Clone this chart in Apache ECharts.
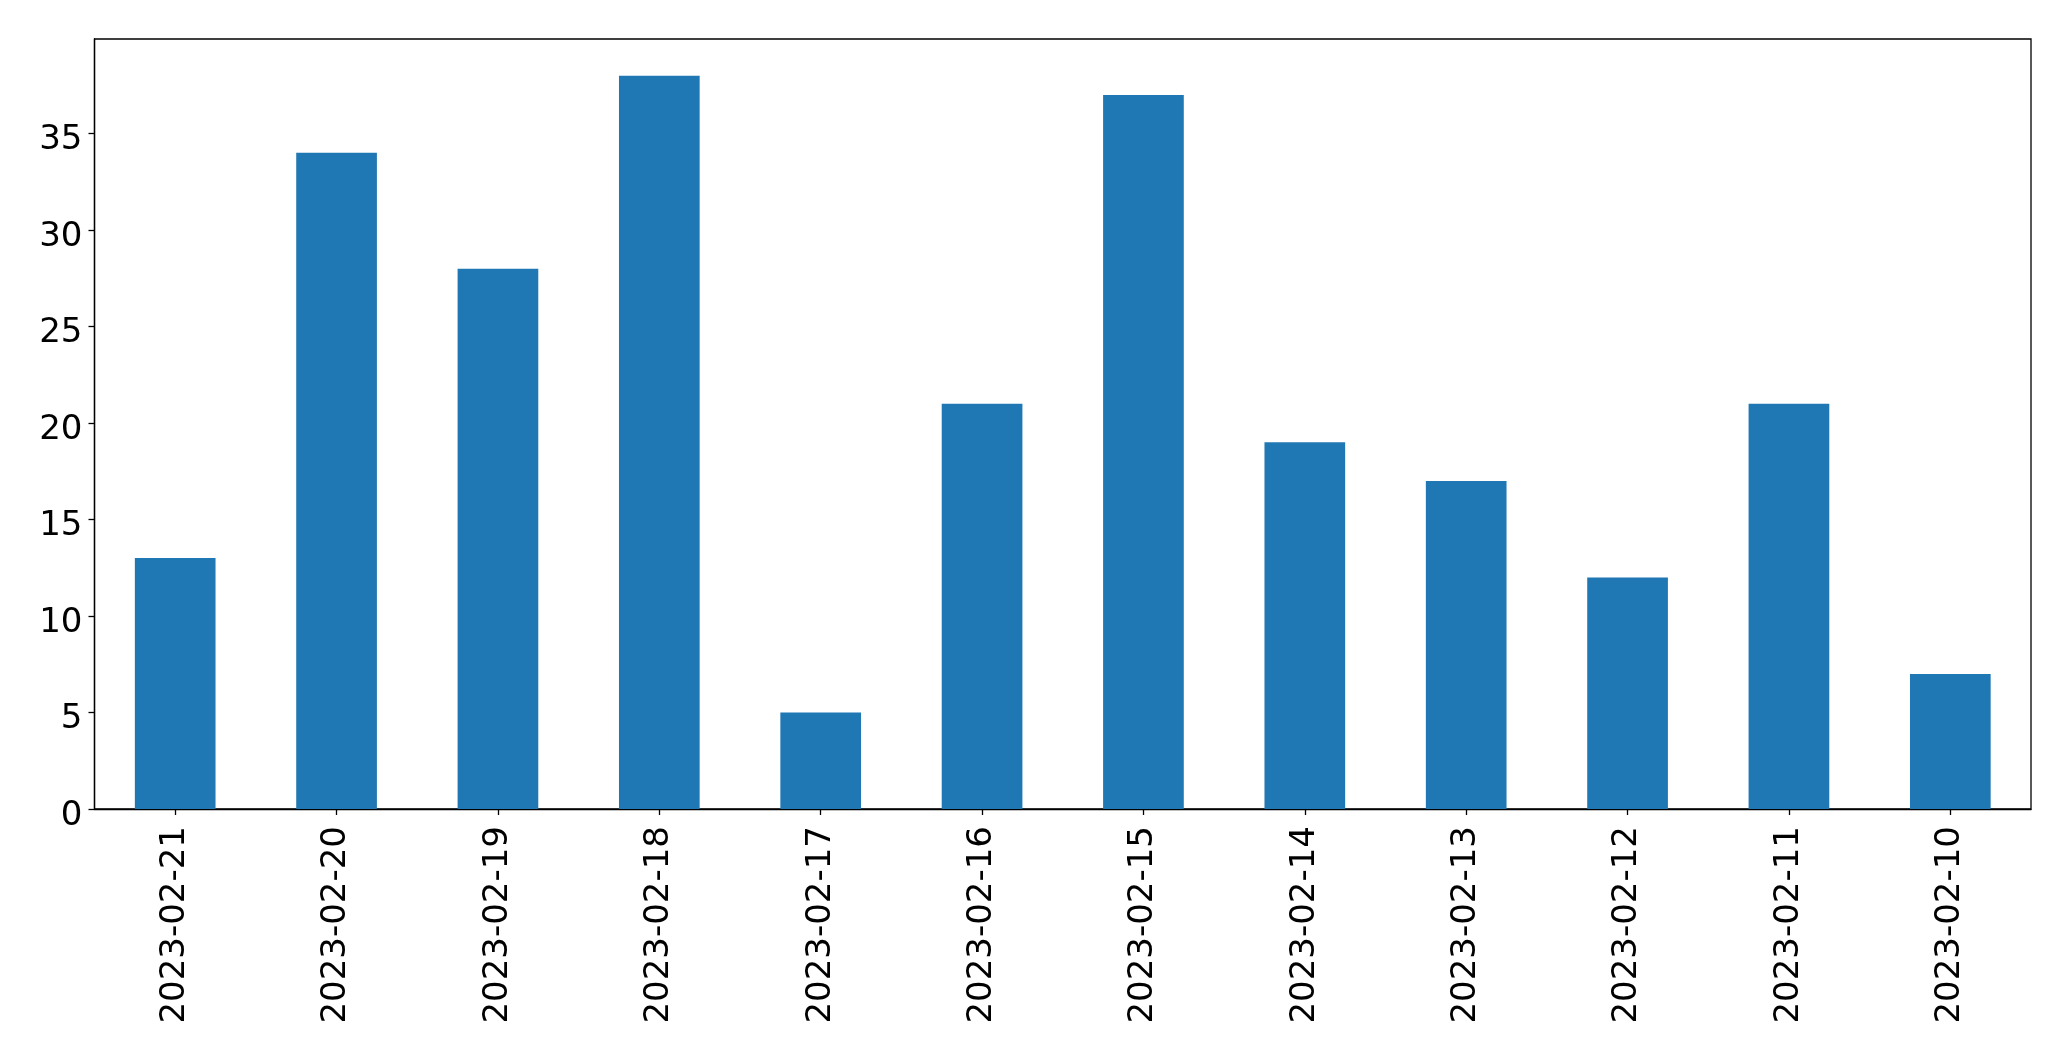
<!DOCTYPE html>
<html>
<head>
<meta charset="utf-8">
<script src="https://cdn.jsdelivr.net/npm/echarts@6/dist/echarts.min.js"></script>
<style>
html,body{margin:0;padding:0;background:#fff;}
#chart{width:2071px;height:1061px;}
</style>
</head>
<body>
<div id="chart"></div>
<script>
const categories = ["2023-02-21","2023-02-20","2023-02-19","2023-02-18","2023-02-17","2023-02-16","2023-02-15","2023-02-14","2023-02-13","2023-02-12","2023-02-11","2023-02-10"];
const values = [13, 34, 28, 38, 5, 21, 37, 19, 17, 12, 21, 7];
const yTicks = [0, 5, 10, 15, 20, 25, 30, 35];
const yMax = 39.9;

const chart = echarts.init(document.getElementById('chart'), null, {renderer: 'canvas'});
const font = 'DejaVu Sans';
chart.setOption({
  animation: false,
  backgroundColor: '#ffffff',
  grid: {
    left: 94.5, right: 40, top: 39, bottom: 252,
    show: true, borderColor: '#000', borderWidth: 1.3, backgroundColor: 'transparent'
  },
  xAxis: {
    type: 'category',
    data: categories,
    boundaryGap: true,
    axisLine: {show: true, lineStyle: {color: '#000', width: 1.3}},
    axisTick: {show: true, alignWithLabel: true, length: 6, lineStyle: {color: '#000', width: 1.3}},
    axisLabel: {rotate: 90, margin: 17, fontSize: 34, fontFamily: font, color: '#000'},
    splitLine: {show: false}
  },
  yAxis: {
    type: 'value',
    min: 0, max: yMax,
    axisLine: {show: true, lineStyle: {color: '#000', width: 1.3}},
    axisTick: {show: true, length: 6, customValues: yTicks, lineStyle: {color: '#000', width: 1.3}},
    axisLabel: {
      margin: 12, fontSize: 34, fontFamily: font, color: '#000',
      verticalAlign: 'top', lineHeight: 14,
      customValues: yTicks
    },
    splitLine: {show: false}
  },
  series: [{
    type: 'bar',
    data: values,
    barWidth: '50%',
    itemStyle: {color: '#1f77b4'}
  }]
});
</script>
</body>
</html>
